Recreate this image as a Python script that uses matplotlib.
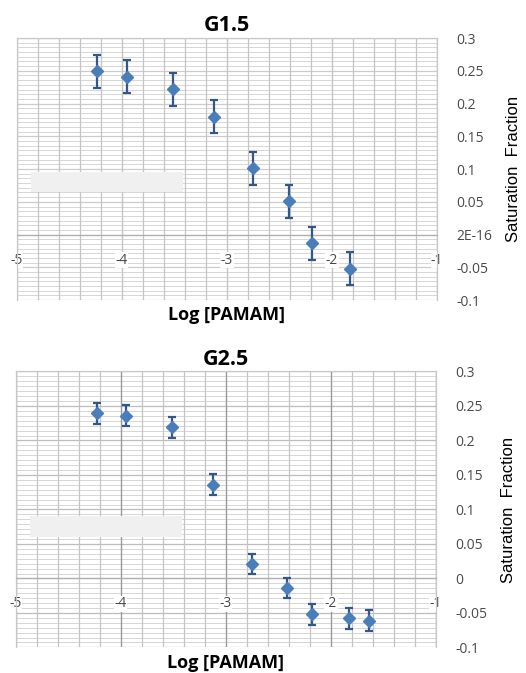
import numpy as np
import matplotlib.pyplot as plt
from matplotlib.patches import Rectangle
from matplotlib.ticker import MultipleLocator

# G1.5 data
g15_x = [-4.24, -3.95, -3.51, -3.12, -2.75, -2.41, -2.19, -1.83]
g15_y = [0.249, 0.241, 0.222, 0.180, 0.101, 0.051, -0.013, -0.052]
g15_err = [0.025, 0.025, 0.025, 0.025, 0.025, 0.025, 0.025, 0.025]

# G2.5 data
g25_x = [-4.23, -3.95, -3.51, -3.12, -2.75, -2.42, -2.18, -1.83, -1.64]
g25_y = [0.2395, 0.236, 0.219, 0.136, 0.021, -0.014, -0.052, -0.058, -0.061]
g25_err = [0.015, 0.015, 0.015, 0.015, 0.015, 0.015, 0.015, 0.015, 0.015]

x_ticks = [-5, -4, -3, -2, -1]
y_ticks = [-0.1, -0.05, 0, 0.05, 0.1, 0.15, 0.2, 0.25, 0.3]
top_ylabels = ['-0.1', '-0.05', '2E-16', '0.05', '0.1', '0.15', '0.2', '0.25', '0.3']
bot_ylabels = ['-0.1', '-0.05', '0', '0.05', '0.1', '0.15', '0.2', '0.25', '0.3']

plt.rcParams['font.family'] = ['Open Sans', 'DejaVu Sans']

fig = plt.figure(figsize=(5.26, 6.73), dpi=100)
ax1 = fig.add_axes([0.032, 0.554, 0.799, 0.3895])
ax2 = fig.add_axes([0.030, 0.038, 0.799, 0.41])


def style(ax, title, ylabels, dark_major, rect_y):
    ax.set_xlim(-5, -1)
    ax.set_ylim(-0.1, 0.3)
    ax.xaxis.set_minor_locator(MultipleLocator(0.2))
    ax.yaxis.set_minor_locator(MultipleLocator(0.05 / 7))
    ax.set_xticks(x_ticks)
    ax.set_xticklabels([str(t) for t in x_ticks])
    ax.set_yticks(y_ticks)
    ax.set_yticklabels(ylabels)
    ax.grid(which='minor', axis='y', color='#d6d6d6', lw=0.7)
    ax.grid(which='minor', axis='x', color='#c4c4c4', lw=0.9)
    ax.grid(which='major', axis='y', color='#bdbdbd' if dark_major else '#cccccc', lw=0.9)
    ax.grid(which='major', axis='x', color='#9a9a9a' if dark_major else '#c4c4c4', lw=1.0)
    ax.set_axisbelow(True)
    # x labels (with white boxes) go above the horizontal grid
    ax.xaxis.set_zorder(0.6)
    ax.spines['bottom'].set_position(('data', 0))
    ax.spines['bottom'].set_color('#b0b0b0')
    ax.spines['bottom'].set_linewidth(0.9)
    for s in ['top', 'left', 'right']:
        ax.spines[s].set_color('#c8c8c8')
        ax.spines[s].set_linewidth(0.9)
    ax.yaxis.tick_right()
    ax.tick_params(axis='both', which='both', length=0)
    ax.tick_params(axis='y', labelsize=10, colors='#4a4a4a', pad=14)
    ax.tick_params(axis='x', labelsize=10, colors='#4a4a4a', pad=13)
    for lab in ax.get_xticklabels():
        lab.set_bbox(dict(facecolor='white', edgecolor='none', pad=0.3))
    ax.set_title(title, fontsize=15.5, fontweight='bold', pad=5)
    ax.text(0.5, -0.056, 'Log [PAMAM]', transform=ax.transAxes, ha='center',
            va='center', fontsize=13, fontweight='bold')
    ax.yaxis.set_label_position('right')
    ax.set_ylabel('Saturation  Fraction', fontsize=12, family='Liberation Sans',
                  labelpad=10, rotation=90)
    ax.add_patch(Rectangle((0.033, rect_y), 0.362, 0.075, transform=ax.transAxes,
                           facecolor='#f0f0f0', edgecolor='none', zorder=2))


style(ax1, 'G1.5', top_ylabels, False, 0.413)
style(ax2, 'G2.5', bot_ylabels, True, 0.40)

for ax, x, y, e in [(ax1, g15_x, g15_y, g15_err), (ax2, g25_x, g25_y, g25_err)]:
    ax.errorbar(x, y, yerr=e, fmt='D', color='#4a7ebb', ms=6.5, mec='#4a7ebb',
                ecolor='#34578a', elinewidth=1.6, capsize=3, capthick=1.6, zorder=5)

fig.savefig('out.png', dpi=100)
